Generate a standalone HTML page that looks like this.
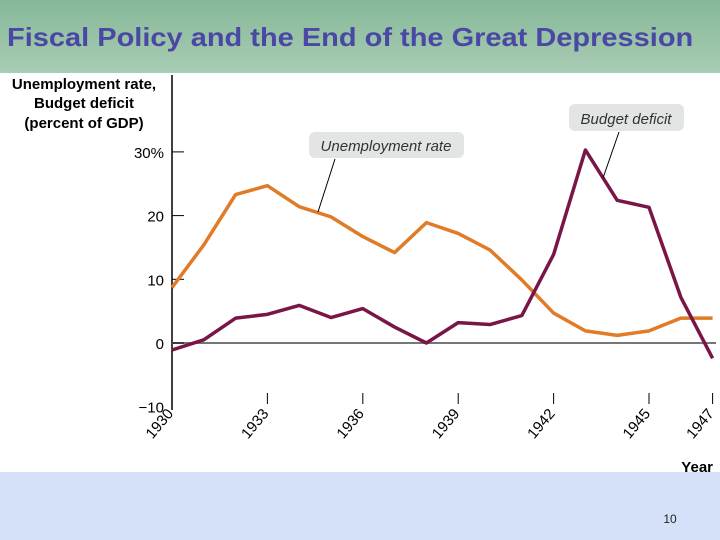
<!DOCTYPE html>
<html><head><meta charset="utf-8"><style>
body{margin:0;width:720px;height:540px;overflow:hidden;background:#fff;font-family:"Liberation Sans",sans-serif}
#hdr{position:absolute;left:0;top:0;width:720px;height:73px;background:linear-gradient(#86b898,#a8ccb4)}
#ttl{position:absolute;left:7px;top:22px;font:bold 26px "Liberation Sans",sans-serif;color:#4a48a4;white-space:nowrap;transform-origin:0 0;transform:scaleX(1.115)}
#foot{position:absolute;left:0;top:472px;width:720px;height:68px;background:#d5e1f9}
</style></head><body>
<div id="hdr"><div id="ttl">Fiscal Policy and the End of the Great Depression</div></div>
<div id="foot"></div>
<svg id="chart" width="720" height="540" style="position:absolute;left:0;top:0"></svg>
<script>
const years=[1930,1931,1932,1933,1934,1935,1936,1937,1938,1939,1940,1941,1942,1943,1944,1945,1946,1947];
const unemployment=[8.7,15.4,23.3,24.7,21.4,19.8,16.7,14.2,18.9,17.2,14.6,9.9,4.7,1.9,1.2,1.9,3.9,3.9];
const deficit=[-1.1,0.5,3.9,4.5,5.9,4.0,5.4,2.5,0,3.2,2.9,4.3,13.9,30.3,22.4,21.3,7.2,-2.4];
const yTicks=[30,20,10,0,-10];
const yTickLabels=["30%","20","10","0","\u221210"];
const xTicks=[1930,1933,1936,1939,1942,1945,1947];
const svg=document.getElementById('chart');const NS='http://www.w3.org/2000/svg';
const X=y=>172+(y-1930)*31.8, Y=v=>343-v*6.37;
function el(t,a,txt){const e=document.createElementNS(NS,t);for(const k in a)e.setAttribute(k,a[k]);if(txt!=null)e.textContent=txt;svg.appendChild(e);return e;}
let e;
e=el('line',{x1:172,y1:75,x2:172,y2:410,stroke:'#000','stroke-width':1.5});


e=el('line',{x1:172,y1:Y(0),x2:716,y2:Y(0),stroke:'#777','stroke-width':2});


yTicks.forEach((v,i)=>{
  if(v>-10){e=el('line',{x1:172,y1:Y(v),x2:184,y2:Y(v),stroke:'#000','stroke-width':1});
  
  }
  e=el('text',{x:164,y:Y(v)+6,'text-anchor':'end','font-size':15,fill:'#000'},yTickLabels[i]);
  
  
});
xTicks.forEach(yr=>{
  if(yr>1930){e=el('line',{x1:X(yr),y1:393,x2:X(yr),y2:404,stroke:'#000','stroke-width':1});
  
  }
  const tx=X(yr)+2,ty=414;
  e=el('text',{x:tx,y:ty,'text-anchor':'end','font-size':15,fill:'#000',transform:`rotate(-50 ${tx} ${ty})`},String(yr));
  
  
});
[["Unemployment rate,",89],["Budget deficit",108],["(percent of GDP)",128]].forEach(([t,y])=>{
  e=el('text',{x:84,y:y,'text-anchor':'middle','font-size':15,'font-weight':'bold',fill:'#000'},t);
  
  
});
e=el('text',{x:713,y:472,'text-anchor':'end','font-size':15,'font-weight':'bold',fill:'#000'},'Year');


function line(vals,color,name){
  e=el('polyline',{points:vals.map((v,i)=>X(years[i])+','+Y(v)).join(' '),fill:'none',stroke:color,'stroke-width':3.5,'stroke-linejoin':'round'});
  
  
}
line(unemployment,'#e07b28','unemployment-line');
line(deficit,'#7a1548','deficit-line');
e=el('rect',{x:309,y:132,width:155,height:26,rx:6,fill:'#e3e5e4'});


e=el('text',{x:386,y:151,'text-anchor':'middle','font-size':15,'font-style':'italic',fill:'#333'},'Unemployment rate');


e=el('line',{x1:335,y1:159,x2:318,y2:212,stroke:'#000','stroke-width':1});


e=el('rect',{x:569,y:104,width:115,height:27,rx:6,fill:'#e3e5e4'});


e=el('text',{x:626,y:124,'text-anchor':'middle','font-size':15,'font-style':'italic',fill:'#333'},'Budget deficit');


e=el('line',{x1:619,y1:132,x2:603,y2:178,stroke:'#000','stroke-width':1});


e=el('text',{x:670,y:523,'text-anchor':'middle','font-size':12,fill:'#222'},'10');


</script>
</body></html>
